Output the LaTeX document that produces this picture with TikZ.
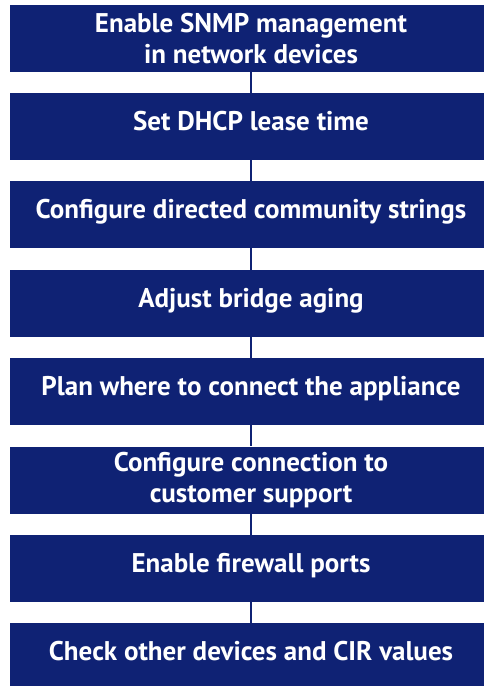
\documentclass[tikz,border=0pt]{standalone}
\usepackage{fontspec}
\setmainfont{PT Sans}
\definecolor{stepnavy}{RGB}{15,34,116}
\begin{document}
\begin{tikzpicture}[x=1pt,y=-1pt,
  stepbox/.style={rectangle, fill=stepnavy, draw=none, minimum width=482pt,
    minimum height=67pt, inner sep=0pt, align=center, text=white,
    font=\fontsize{27}{31.5}\selectfont\bfseries},
  oneline/.style={stepbox, text height=18pt, text depth=10.5pt},
  link/.style={draw=stepnavy, line width=2.6pt}]
\useasboundingbox (0,0) rectangle (484,686);
\begin{scope}
\clip (0,0) rectangle (484,686);
\node[stepbox] (s1) at (251,38.5) {Enable SNMP management\\in network devices};
\node[oneline] (s2) at (251,126.5) {Set DHCP lease time};
\node[oneline] (s3) at (251,214.5) {Configure directed community strings};
\node[oneline] (s4) at (251,303.5) {Adjust bridge aging};
\node[oneline] (s5) at (251,391.5) {Plan where to connect the appliance};
\node[stepbox] (s6) at (251,480) {Configure connection to\\customer support};
\node[oneline] (s7) at (251,568.5) {Enable firewall ports};
\node[oneline] (s8) at (251,656.5) {Check other devices and CIR values};
\foreach \a/\b in {s1/s2,s2/s3,s3/s4,s4/s5,s5/s6,s6/s7,s7/s8}
  \draw[link] (\a.south) -- (\b.north);
\end{scope}
\end{tikzpicture}
\end{document}
